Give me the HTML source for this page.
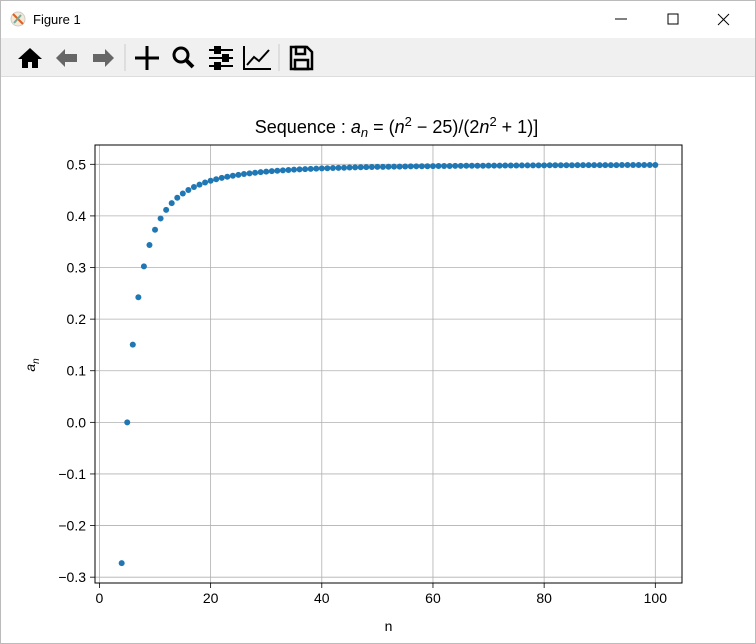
<!DOCTYPE html>
<html><head><meta charset="utf-8"><style>
body{margin:0;width:756px;height:644px;overflow:hidden;background:#fff;font-family:"Liberation Sans","DejaVu Sans",sans-serif;}
#win{position:absolute;left:0;top:0;width:754px;height:642px;border:1px solid #bbb;background:#fff;}
#titlebar{position:absolute;left:0;top:0;width:754px;height:37px;background:#fff;}
#toolbar{position:absolute;left:0;top:37px;width:754px;height:38px;background:#f0f0f0;border-bottom:1px solid #ddd;}
</style></head><body>
<div id="win">
<div id="titlebar">
 <svg width="754" height="37" style="position:absolute;left:0;top:0">
  <g><circle cx="17" cy="18" r="7" fill="#f4e9d8" stroke="#ccc"/><line x1="12" y1="13" x2="22" y2="23" stroke="#e06020" stroke-width="2"/><line x1="13" y1="22" x2="20" y2="14" stroke="#7a9" stroke-width="2"/></g>
  <text x="32" y="23" font-size="13" fill="#000">Figure 1</text>
  <line x1="614" y1="18" x2="626" y2="18" stroke="#000"/>
  <rect x="667" y="13" width="10" height="10" fill="none" stroke="#000"/>
  <g stroke="#000"><line x1="717" y1="13" x2="728" y2="24"/><line x1="728" y1="13" x2="717" y2="24"/></g>
 </svg>
</div>
<div id="toolbar">
 <svg width="754" height="38" style="position:absolute;left:0;top:0">
  <g><path d="M17 21 L29 10 L41 21 Z" fill="#000"/><rect x="21" y="20" width="16" height="10" fill="#000"/><rect x="27" y="24" width="4" height="6" fill="#f0f0f0"/></g>
  <g><path d="M55 20 L64 11 L64 16 L76 16 L76 24 L64 24 L64 29 Z" fill="#666"/></g>
  <g><path d="M113 20 L104 11 L104 16 L92 16 L92 24 L104 24 L104 29 Z" fill="#666"/></g>
  <line x1="124" y1="6" x2="124" y2="33" stroke="#ccc"/>
  <g stroke="#000" stroke-width="3"><line x1="134" y1="20" x2="158" y2="20"/><line x1="146" y1="8" x2="146" y2="32"/></g>
  <g><circle cx="180" cy="17" r="7" fill="none" stroke="#000" stroke-width="3"/><line x1="185" y1="22" x2="192" y2="29" stroke="#000" stroke-width="4"/></g>
  <g stroke="#000" stroke-width="2"><line x1="208" y1="12" x2="232" y2="12"/><line x1="208" y1="20" x2="232" y2="20"/><line x1="208" y1="28" x2="232" y2="28"/><rect x="214" y="9" width="5" height="6" fill="#000"/><rect x="222" y="17" width="5" height="6" fill="#000"/><rect x="214" y="25" width="5" height="6" fill="#000"/></g>
  <g stroke="#000" stroke-width="2" fill="none"><path d="M243 8 L243 31 L270 31"/><path d="M246 27 L253 19 L258 23 L268 12"/></g>
  <line x1="278" y1="6" x2="278" y2="33" stroke="#ccc"/>
  <g fill="none" stroke="#000" stroke-width="2.5"><path d="M290 9 L306 9 L311 14 L311 31 L290 31 Z"/><rect x="295" y="9" width="9" height="7"/><rect x="294" y="22" width="13" height="9"/></g>
 </svg>
</div>
<svg id="chart" width="754" height="566" style="position:absolute;left:0;top:76px">
 <g transform="translate(0,-76)" id="plot"></g>
</svg>
</div>
<script>
const nValues=[4,5,6,7,8,9,10,11,12,13,14,15,16,17,18,19,20,21,22,23,24,25,26,27,28,29,30,31,32,33,34,35,36,37,38,39,40,41,42,43,44,45,46,47,48,49,50,51,52,53,54,55,56,57,58,59,60,61,62,63,64,65,66,67,68,69,70,71,72,73,74,75,76,77,78,79,80,81,82,83,84,85,86,87,88,89,90,91,92,93,94,95,96,97,98,99,100];
const aValues=[-0.2727,0,0.1507,0.2424,0.3023,0.3436,0.3731,0.3951,0.4118,0.4248,0.4351,0.4435,0.4503,0.4560,0.4607,0.4647,0.4682,0.4711,0.4737,0.4759,0.4779,0.4796,0.4812,0.4825,0.4837,0.4848,0.4858,0.4867,0.4876,0.4883,0.4890,0.4896,0.4902,0.4907,0.4912,0.4916,0.4920,0.4924,0.4928,0.4931,0.4934,0.4937,0.4940,0.4942,0.4945,0.4947,0.4949,0.4951,0.4953,0.4955,0.4956,0.4958,0.4959,0.4961,0.4962,0.4963,0.4965,0.4966,0.4967,0.4968,0.4969,0.4970,0.4971,0.4972,0.4972,0.4973,0.4974,0.4975,0.4975,0.4976,0.4977,0.4977,0.4978,0.4978,0.4979,0.4980,0.4980,0.4981,0.4981,0.4981,0.4982,0.4982,0.4983,0.4983,0.4984,0.4984,0.4984,0.4985,0.4985,0.4985,0.4986,0.4986,0.4986,0.4986,0.4987,0.4987,0.4987];
const xTicks=[0,20,40,60,80,100];
const xTickLabels=["0","20","40","60","80","100"];
const yTicks=[-0.3,-0.2,-0.1,0,0.1,0.2,0.3,0.4,0.5];
const yTickLabels=["\u22120.3","\u22120.2","\u22120.1","0.0","0.1","0.2","0.3","0.4","0.5"];

const L=94,R=681,T=144,B=582;
const xmin=-0.8,xmax=104.8,ymin=-0.3113,ymax=0.5374;
const sx=v=>L+(v-xmin)/(xmax-xmin)*(R-L);
const sy=v=>B-(v-ymin)/(ymax-ymin)*(B-T);
const NS="http://www.w3.org/2000/svg";
const g=document.getElementById('plot');
function mk(tag,attrs,parent){const e=document.createElementNS(NS,tag);for(const k in attrs)e.setAttribute(k,attrs[k]);(parent||g).appendChild(e);return e;}

const bg=mk('rect',{x:L,y:T,width:R-L,height:B-T,fill:'#fff'});



xTicks.forEach((v,i)=>{
 const x=sx(v);
 const gl=mk('line',{x1:x,x2:x,y1:T,y2:B,stroke:'#b0b0b0','stroke-width':0.8});
 
 
 mk('line',{x1:x,x2:x,y1:B,y2:B+5,stroke:'#000','stroke-width':0.8});
 const t=mk('text',{x:x,y:B+20,'font-size':14,'text-anchor':'middle',fill:'#000'});
 t.textContent=xTickLabels[i];
 
 
});
yTicks.forEach((v,i)=>{
 const y=sy(v);
 const gl=mk('line',{x1:L,x2:R,y1:y,y2:y,stroke:'#b0b0b0','stroke-width':0.8});
 
 
 mk('line',{x1:L-5,x2:L,y1:y,y2:y,stroke:'#000','stroke-width':0.8});
 const t=mk('text',{x:L-9,y:y+5,'font-size':14,'text-anchor':'end',fill:'#000'});
 t.textContent=yTickLabels[i];
 
 
});
nValues.forEach((n,i)=>{
 const c=mk('circle',{cx:sx(n),cy:sy(aValues[i]),r:3,fill:'#1f77b4'});
 
 
});
const fr=mk('rect',{x:L,y:T,width:R-L,height:B-T,fill:'none',stroke:'#000','stroke-width':1});



const title=mk('text',{x:(L+R)/2+8,y:132,'font-size':18,'text-anchor':'middle',fill:'#000'});
title.innerHTML='Sequence : <tspan font-style="italic">a</tspan><tspan font-style="italic" font-size="13" dy="4">n</tspan><tspan dy="-4"> = (</tspan><tspan font-style="italic">n</tspan><tspan font-size="13" dy="-7">2</tspan><tspan dy="7"> − 25)/(2</tspan><tspan font-style="italic">n</tspan><tspan font-size="13" dy="-7">2</tspan><tspan dy="7"> + 1)]</tspan>';



const xl=mk('text',{x:(L+R)/2,y:630,'font-size':14,'text-anchor':'middle',fill:'#000'});
xl.textContent='n';



const yl=mk('text',{x:0,y:0,'font-size':14,'text-anchor':'middle',fill:'#000',transform:'translate(34,364) rotate(-90)'});
yl.innerHTML='<tspan font-style="italic">a</tspan><tspan font-style="italic" font-size="10" dy="4">n</tspan>';


</script>
</body></html>
